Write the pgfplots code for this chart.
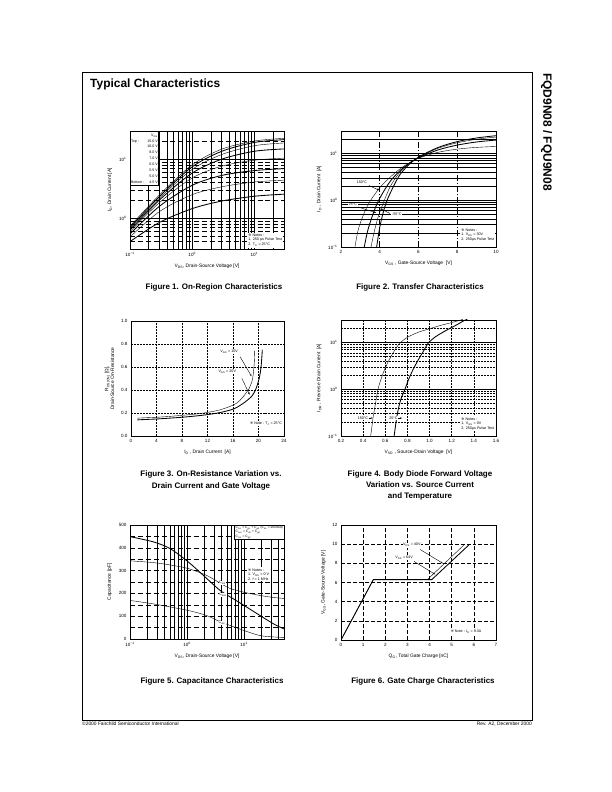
\documentclass[border=0pt]{standalone}
\usepackage{fontspec}
\setmainfont{Liberation Sans}
\newfontfamily\sym{DejaVu Sans}
\usepackage{pgfplots}
\pgfplotsset{compat=1.18}
\usetikzlibrary{arrows.meta}
\newcommand\tk{\fontsize{4.6}{5.5}\selectfont}
\newcommand\lb{\fontsize{4.9}{5.9}\selectfont}
\newcommand\nt{\fontsize{3.7}{4.7}\selectfont}
\newcommand\ds[1]{\textsubscript{#1}}
\newcommand\rmk{{\sym ※}}
\tikzset{
 gs/.style={black,line width=0.55pt},
 gsb/.style={black,line width=0.75pt},
 gd/.style={black,line width=0.55pt,dash pattern=on 5pt off 3pt},
 gdd/.style={black,line width=0.45pt,dash pattern=on 2pt off 1pt},
 ann/.style={line width=0.4pt,-{Stealth[length=2.2pt,width=1.6pt]}},
 capt/.style={font=\bfseries\fontsize{8}{9.6}\selectfont,anchor=base,inner sep=0pt},
}
\pgfplotsset{
 ds/.style={scale only axis, anchor=south west,
  axis line style={line width=0.9pt},
  tick label style={font=\tk},
  label style={font=\lb},
  /pgf/number format/assume math mode=true,
  major tick length=0pt, minor tick length=0pt,
  cycle list={{black,line width=0.85pt}},
  no markers,
 }
}
\begin{document}
\begin{tikzpicture}
\fill[white] (0,0) rectangle (612bp,792bp);
\path[use as bounding box] (0,0) rectangle (612bp,792bp);
\draw[line width=0.8pt] (82bp,72bp) rectangle (532bp,720bp);
\node[anchor=base west,inner sep=0pt,font=\bfseries\fontsize{12}{14}\selectfont] at (90bp,704bp) {Typical Characteristics};
\node[anchor=west,inner sep=0pt,rotate=-90,font=\bfseries\fontsize{12}{14}\selectfont] at (546.5bp,719bp) {FQD9N08 / FQU9N08};
\node[anchor=base west,inner sep=0pt,font=\fontsize{4.9}{6}\selectfont] at (82bp,66bp) {©2000 Fairchild Semiconductor International};
\node[anchor=base east,inner sep=0pt,font=\fontsize{4.9}{6}\selectfont] at (532bp,66bp) {Rev. A2, December 2000};

% ---------- Figure 1 ----------
\begin{axis}[ds, at={(130bp,543bp)}, width=154bp, height=118bp,
 xmode=log, ymode=log, xmin=0.1, xmax=30, ymin=0.3, ymax=30,
 xtick={0.1,1,10}, xticklabels={10\textsuperscript{−1},10\textsuperscript{0},10\textsuperscript{1}},
 minor xtick={0.2,0.3,0.4,0.5,0.6,0.7,0.8,0.9,2,3,4,5,6,7,8,9,20},
 ytick={1,10}, yticklabels={10\textsuperscript{0},10\textsuperscript{1}},
 minor ytick={0.4,0.5,0.6,0.7,0.8,0.9,2,3,4,5,6,7,8,9,20},
 grid=both, major grid style={gsb}, minor x grid style={gsb}, minor y grid style={gd},
 xlabel={V\ds{DS}, Drain-Source Voltage [V]}, ylabel={I\ds{D}, Drain Current [A]}]
\addplot+[smooth] coordinates {(0.1,0.73)(0.3,2.5)(1,8.0)(3,14.8)(10,20.3)(30,22.5)};
\addplot+[smooth] coordinates {(0.1,0.69)(0.3,2.35)(1,7.4)(3,13.6)(10,19.2)(30,21.4)};
\addplot+[smooth] coordinates {(0.1,0.66)(0.3,2.2)(1,6.7)(3,12.0)(10,16.9)(30,18.8)};
\addplot+[smooth] coordinates {(0.1,0.63)(0.3,2.05)(1,5.8)(3,10.0)(10,13.6)(30,14.9)};
\addplot+[smooth] coordinates {(0.1,0.59)(0.3,1.85)(1,4.8)(3,7.6)(10,9.6)(30,10.4)};
\addplot+[smooth] coordinates {(0.1,0.54)(0.3,1.6)(1,3.6)(3,5.3)(10,6.4)(30,6.9)};
\addplot+[smooth] coordinates {(0.1,0.48)(0.3,1.3)(1,2.5)(3,3.4)(10,4.1)(30,4.4)};
\addplot+[smooth] coordinates {(0.1,0.40)(0.3,0.85)(1,1.45)(3,1.95)(10,2.35)(30,2.55)};
\node[draw,fill=white,line width=0.5pt,anchor=north west,inner sep=0.8pt,font=\fontsize{3.6}{5.9}\selectfont] at (rel axis cs:0,1)
 {\begin{tabular}{@{}l@{\hspace{3pt}}r@{}} & V\ds{GS}\\ Top : & 15.0 V\\ & 10.0 V\\ & 8.0 V\\ & 7.0 V\\ & 6.0 V\\ & 5.5 V\\ & 5.0 V\\ Bottom : & 4.5 V\end{tabular}};
\node[fill=white,anchor=south east,inner sep=1pt,align=left,font=\nt] at (rel axis cs:0.995,0.01)
 {\rmk\ Notes :\\ 1. 250 μs Pulse Test\\ 2. T\ds{C} = 25°C};
\end{axis}

% ---------- Figure 2 ----------
\begin{axis}[ds, at={(341bp,545bp)}, width=155bp, height=116bp,
 ymode=log, xmin=2, xmax=10, ymin=0.1, ymax=30,
 xtick={2,4,6,8,10},
 ytick={0.1,1,10}, yticklabels={10\textsuperscript{−1},10\textsuperscript{0},10\textsuperscript{1}},
 minor ytick={0.2,0.3,0.4,0.5,0.6,0.7,0.8,0.9,2,3,4,5,6,7,8,9,20},
 grid=both, major y grid style={gsb}, minor y grid style={gs},
 major x grid style={black,line width=0.55pt,dash pattern=on 6pt off 2pt on 1pt off 2pt},
 xlabel={V\ds{GS} , Gate-Source Voltage\ \ [V]}, ylabel={I\ds{D} , Drain Current\ \ [A]}]
\addplot+[smooth] coordinates {(2.72,0.1)(2.85,0.2)(3.0,0.33)(3.25,0.6)(3.5,0.95)(4,1.85)(4.5,3.0)(5,4.5)(5.5,6.2)(6,7.9)(7,10.5)(8,12.3)(9,13.4)(10,14.0)};
\addplot+[smooth] coordinates {(3.2,0.1)(3.35,0.2)(3.5,0.33)(3.75,0.65)(4,1.1)(4.5,2.4)(5,4.1)(5.5,6.0)(6,8.0)(7,11.8)(8,15.0)(9,17.5)(10,19.2)};
\addplot+[smooth] coordinates {(3.55,0.1)(3.7,0.2)(3.85,0.35)(4,0.55)(4.5,1.8)(5,3.8)(5.5,6.0)(6,8.2)(7,12.8)(8,16.8)(9,20.0)(10,22.3)};
\addplot+[smooth] coordinates {(3.84,0.1)(3.95,0.2)(4.05,0.33)(4.25,0.7)(4.5,1.3)(5,3.3)(5.5,5.7)(6,8.3)(7,13.3)(8,17.8)(9,21.3)(10,23.8)};
\node[fill=white,inner sep=0.6pt,font=\nt] at (rel axis cs:0.135,0.56) {150°C};
\draw[ann] (rel axis cs:0.18,0.53) -- (rel axis cs:0.245,0.49);
\node[fill=white,inner sep=0.6pt,font=\nt] at (rel axis cs:0.077,0.365) {25°C};
\draw[ann] (rel axis cs:0.11,0.345) -- (rel axis cs:0.226,0.295);
\node[fill=white,inner sep=0.6pt,font=\nt] at (rel axis cs:0.36,0.284) {-55°C};
\draw[ann] (rel axis cs:0.315,0.29) -- (rel axis cs:0.255,0.33);
\node[fill=white,anchor=south east,inner sep=1pt,align=left,font=\nt] at (rel axis cs:0.995,0.04)
 {\rmk\ Notes :\\ 1. V\ds{DS} = 30V\\ 2. 250μs Pulse Test};
\end{axis}

% ---------- Figure 3 ----------
\begin{axis}[ds, at={(131bp,356bp)}, width=153bp, height=115bp,
 xmin=0, xmax=24, ymin=0, ymax=1,
 xtick={0,4,8,12,16,20,24}, ytick={0,0.2,0.4,0.6,0.8,1.0},
 yticklabel style={/pgf/number format/.cd,fixed,fixed zerofill,precision=1},
 grid=major, major grid style={gdd},
 xlabel={I\ds{D} , Drain Current\ \ [A]},
 ylabel={R\ds{DS(ON)} [Ω],\\Drain-Source On-Resistance}, ylabel style={align=center}]
\addplot+[smooth] coordinates {(1,0.155)(2,0.158)(4,0.163)(6,0.17)(8,0.18)(10,0.19)(12,0.205)(14,0.228)(16,0.268)(17,0.305)(18,0.37)(18.5,0.41)(19,0.48)(19.2,0.55)(19.35,0.65)(19.4,0.74)};
\addplot+[smooth] coordinates {(1,0.14)(2,0.143)(4,0.148)(6,0.155)(8,0.163)(10,0.173)(12,0.186)(14,0.204)(16,0.233)(17,0.262)(18,0.30)(19,0.35)(19.6,0.41)(20.1,0.5)(20.4,0.6)(20.6,0.75)};
\node[fill=white,inner sep=0.6pt,font=\nt] at (axis cs:15.4,0.73) {V\ds{GS} = 10V};
\draw[ann] (axis cs:17.1,0.69) -- (axis cs:18.9,0.52);
\node[fill=white,inner sep=0.6pt,font=\nt] at (axis cs:15.1,0.56) {V\ds{GS} = 20V};
\draw[ann] (axis cs:17.4,0.50) -- (axis cs:18.6,0.36);
\node[fill=white,inner sep=0.6pt,font=\nt,anchor=east] at (axis cs:23.8,0.105) {\rmk\ Note : T\ds{J} = 25°C};
\end{axis}

% ---------- Figure 4 ----------
\begin{axis}[ds, at={(341bp,356bp)}, width=155bp, height=116bp,
 ymode=log, xmin=0.2, xmax=1.6, ymin=0.1, ymax=30,
 xtick={0.2,0.4,0.6,0.8,1.0,1.2,1.4,1.6},
 xticklabel style={/pgf/number format/.cd,fixed,fixed zerofill,precision=1},
 ytick={0.1,1,10}, yticklabels={10\textsuperscript{−1},10\textsuperscript{0},10\textsuperscript{1}},
 minor ytick={0.2,0.3,0.4,0.5,0.6,0.7,0.8,0.9,2,3,4,5,6,7,8,9,20},
 grid=both, major y grid style={gsb}, minor y grid style={gdd}, major x grid style={gdd},
 xlabel={V\ds{SD} , Source-Drain Voltage\ \ [V]}, ylabel={I\ds{DR} , Reverse Drain Current\ \ [A]}]
\addplot+[smooth] coordinates {(0.468,0.1)(0.478,0.15)(0.49,0.25)(0.505,0.4)(0.52,0.65)(0.534,1.0)(0.56,1.6)(0.59,2.5)(0.63,4.0)(0.68,6.5)(0.73,9.5)(0.8,12.8)(0.9,16.5)(1.0,19.5)(1.1,23)(1.2,26.5)(1.26,29)(1.3,31)};
\addplot+[smooth] coordinates {(0.68,0.1)(0.69,0.15)(0.70,0.22)(0.715,0.35)(0.735,0.55)(0.755,0.75)(0.778,1.0)(0.81,1.6)(0.85,2.6)(0.9,4.3)(0.95,6.8)(0.986,9.5)(1.05,13)(1.15,18)(1.25,24)(1.31,29)(1.34,31)};
\node[fill=white,inner sep=0.6pt,font=\nt,anchor=east] at (rel axis cs:0.18,0.155) {150°C};
\draw[ann] (rel axis cs:0.18,0.155) -- (rel axis cs:0.205,0.155);
\node[fill=white,inner sep=0.6pt,font=\nt,anchor=east] at (rel axis cs:0.37,0.155) {25°C};
\draw[ann] (rel axis cs:0.37,0.155) -- (rel axis cs:0.395,0.155);
\node[fill=white,anchor=south east,inner sep=1pt,align=left,font=\nt] at (rel axis cs:0.995,0.04)
 {\rmk\ Notes :\\ 1. V\ds{GS} = 0V\\ 2. 250μs Pulse Test};
\end{axis}

% ---------- Figure 5 ----------
\begin{axis}[ds, at={(130bp,153bp)}, width=154bp, height=114bp,
 xmode=log, xmin=0.1, xmax=50, ymin=0, ymax=500,
 xtick={0.1,1,10}, xticklabels={10\textsuperscript{−1},10\textsuperscript{0},10\textsuperscript{1}},
 minor xtick={0.2,0.3,0.4,0.5,0.6,0.7,0.8,0.9,2,3,4,5,6,7,8,9,20,30,40},
 ytick={0,100,200,300,400,500}, minor ytick={50,150,250,350,450},
 grid=both, major x grid style={gsb}, minor x grid style={gsb}, major y grid style={gd}, minor y grid style={gd},
 xlabel={V\ds{DS}, Drain-Source Voltage [V]}, ylabel={Capacitance [pF]}]
\addplot+[smooth] coordinates {(0.1,343)(0.256,335)(0.5,325)(1.05,309)(2.2,279)(3.8,245)(5.6,222)(10,205)(19,191)(33,182)(50,178)};
\addplot+[smooth] coordinates {(0.1,449)(0.256,426)(0.5,397)(1.05,338)(1.93,279)(3.8,213)(6.5,176)(10,147)(19,103)(33,66)(50,44)};
\addplot+[smooth] coordinates {(0.1,169)(0.256,154)(1.05,125)(2.2,103)(3.8,76)(10,37)(19,15)(33,9)(50,7)};
\node[fill=white,inner sep=0.5pt,font=\nt] at (rel axis cs:0.6,0.49) {C\ds{iss}};
\node[fill=white,inner sep=0.5pt,font=\nt] at (rel axis cs:0.603,0.386) {C\ds{oss}};
\node[fill=white,inner sep=0.5pt,font=\nt] at (rel axis cs:0.597,0.14) {C\ds{rss}};
\node[draw,fill=white,line width=0.5pt,anchor=north east,inner sep=1pt,align=left,font=\fontsize{3.3}{4.3}\selectfont] at (rel axis cs:1,1)
 {C\ds{iss} = C\ds{gs} + C\ds{gd} (C\ds{ds} = shorted)\\ C\ds{oss} = C\ds{ds} + C\ds{gd}\\ C\ds{rss} = C\ds{gd}};
\node[fill=white,anchor=north west,inner sep=1pt,align=left,font=\nt] at (rel axis cs:0.76,0.63)
 {\rmk\ Notes :\\ 1. V\ds{GS} = 0 V\\ 2. f = 1 MHz};
\end{axis}

% ---------- Figure 6 ----------
\begin{axis}[ds, at={(341bp,152bp)}, width=155bp, height=115bp,
 xmin=0, xmax=7, ymin=0, ymax=12,
 xtick={0,1,2,3,4,5,6,7}, ytick={0,2,4,6,8,10,12},
 grid=major, major grid style={black,line width=0.55pt,dash pattern=on 4pt off 2pt},
 xlabel={Q\ds{G}, Total Gate Charge [nC]}, ylabel={V\ds{GS}, Gate-Source Voltage [V]}]
\addplot coordinates {(0,0)(1.46,6.3)(3.9,6.3)(5.57,9.95)};
\addplot coordinates {(0,0)(1.46,6.3)(4.1,6.3)(5.79,9.95)};
\node[fill=white,inner sep=0.6pt,font=\nt] at (axis cs:3.2,9.9) {V\ds{DS} = 40V};
\draw[ann] (axis cs:3.57,9.45) -- (axis cs:4.6,8.0);
\node[fill=white,inner sep=0.6pt,font=\nt] at (axis cs:2.85,8.6) {V\ds{DS} = 64V};
\draw[ann] (axis cs:3.3,8.2) -- (axis cs:4.25,6.85);
\node[fill=white,inner sep=0.6pt,font=\nt] at (axis cs:5.65,0.85) {\rmk\ Note : I\ds{D} = 9.3A};
\end{axis}

% ---------- Captions ----------
\node[capt] at (214bp,502bp) {Figure 1. On-Region Characteristics};
\node[capt] at (420bp,502bp) {Figure 2. Transfer Characteristics};
\node[capt] at (211bp,315bp) {Figure 3. On-Resistance Variation vs.};
\node[capt] at (211bp,303bp) {Drain Current and Gate Voltage};
\node[capt] at (420bp,315bp) {Figure 4. Body Diode Forward Voltage};
\node[capt] at (420bp,304bp) {Variation vs. Source Current};
\node[capt] at (420bp,293bp) {and Temperature};
\node[capt] at (212bp,108bp) {Figure 5. Capacitance Characteristics};
\node[capt] at (423bp,108bp) {Figure 6. Gate Charge Characteristics};
\end{tikzpicture}
\end{document}
